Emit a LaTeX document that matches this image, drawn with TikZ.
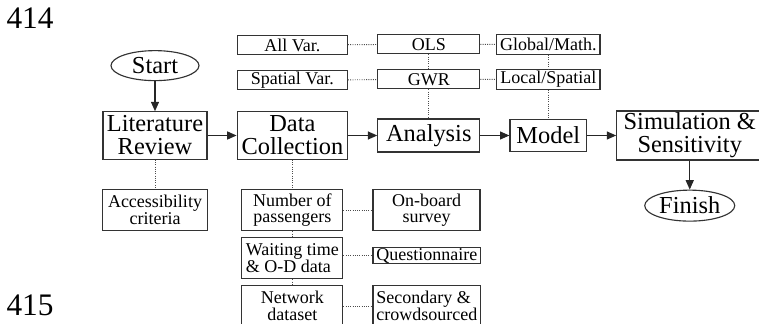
\documentclass[tikz,border=0pt]{standalone}
\usepackage{fontspec}
\setmainfont{Liberation Serif}
\usetikzlibrary{positioning,shapes.geometric,arrows.meta}
\begin{document}
\begin{tikzpicture}[x=0.75pt,y=-0.75pt,node distance=21.75pt,
	plainbox/.style={draw=black!80, line width=0.85pt, inner sep=0pt, align=center},
	mainbox/.style={plainbox, font=\fontsize{18.3}{17.3}\selectfont, minimum height=35.6pt},
	tagbox/.style={plainbox, font=\fontsize{13.5}{12.5}\selectfont, minimum height=14.25pt},
	subbox/.style={plainbox, font=\fontsize{13.5}{12.5}\selectfont, minimum height=31pt},
	termnode/.style={draw=black!80, line width=0.85pt, ellipse, inner sep=0pt, font=\fontsize{18.3}{17.3}\selectfont},
	flowarrow/.style={-{Triangle[length=7pt,width=6pt]}, line width=0.85pt, draw=black!85},
	dotlink/.style={densely dotted, line width=0.7pt, draw=black!70},
	lineno/.style={inner sep=0pt, font=\fontsize{23.5}{23.5}\selectfont}]
	\useasboundingbox (0,0) rectangle (759,324);
	\node (n414) [lineno] at (30,18.5) {414};
	\node (n415) [lineno] at (30,305) {415};
	\node (lit) [mainbox, minimum width=78pt] at (155,135.5) {Literature\\Review};
	\node (start) [termnode, above=22.5pt of lit, minimum width=66pt, minimum height=22.5pt] {Start};
	\node (dc) [mainbox, right=of lit, minimum width=82.9pt] {Data\\Collection};
	\node (ana) [mainbox, right=of dc, minimum width=76.5pt, minimum height=24.75pt] {Analysis};
	\node (mod) [mainbox, right=of ana, minimum width=57.5pt, minimum height=23.8pt] {Model};
	\node (sim) [mainbox, right=of mod, minimum width=109.5pt, minimum height=36.75pt] {Simulation \&\\Sensitivity};
	\node (fin) [termnode, below=of sim, minimum width=67.5pt, minimum height=23.25pt] {Finish};
	\node (acc) [subbox, below=of lit, minimum width=78.5pt] {Accessibility\\criteria};
	\node (num) [subbox, below=of dc, minimum width=75.75pt] {Number of\\passengers};
	\node (wait) [subbox, below=4.2pt of num, minimum width=75.75pt, align=left] {Waiting time\\\& O-D data};
	\node (net) [subbox, below=4.2pt of wait, minimum width=75.75pt] {Network\\dataset};
	\node (onb) [subbox, right=of num, minimum width=80.25pt] {On-board\\survey};
	\node (que) [subbox, right=of wait, minimum width=80.6pt, minimum height=12.5pt, yshift=1.9pt] {Questionnaire};
	\node (sec) [subbox, right=of net, minimum width=80.6pt, align=left] {Secondary \&\\crowdsourced};
	\node (spv) [tagbox, above=15.75pt of dc, minimum width=82.5pt] {Spatial Var.};
	\node (allv) [tagbox, above=11.25pt of spv, minimum width=82.5pt] {All Var.};
	\node (gwr) [tagbox, above=of ana, minimum width=76.5pt] {GWR};
	\node (ols) [tagbox, above=11.25pt of gwr, minimum width=76.5pt] {OLS};
	\node (loc) [tagbox, above=of mod, minimum width=77.5pt, minimum height=15pt] {Local/Spatial};
	\node (glob) [tagbox, above=10.5pt of loc, minimum width=77.5pt, minimum height=15pt] {Global/Math.};
	\draw [flowarrow] (start) -- (lit);
	\draw [flowarrow] (lit) -- (dc);
	\draw [flowarrow] (dc) -- (ana);
	\draw [flowarrow] (ana) -- (mod);
	\draw [flowarrow] (mod) -- (sim);
	\draw [flowarrow] (sim) -- (fin);
	\draw [dotlink] (lit) -- (acc);
	\draw [dotlink] (dc) -- (num);
	\draw [dotlink] (num) -- (wait);
	\draw [dotlink] (wait) -- (net);
	\draw [dotlink] (num) -- (onb);
	\draw [dotlink] (wait.east |- que) -- (que);
	\draw [dotlink] (net) -- (sec);
	\draw [dotlink] (allv) -- (ols);
	\draw [dotlink] (spv) -- (gwr);
	\draw [dotlink] (ols) -- (glob);
	\draw [dotlink] (gwr) -- (loc);
	\draw [dotlink] (ols) -- (gwr);
	\draw [dotlink] (gwr) -- (ana);
	\draw [dotlink] (glob) -- (loc);
	\draw [dotlink] (loc) -- (mod);
\end{tikzpicture}
\end{document}
